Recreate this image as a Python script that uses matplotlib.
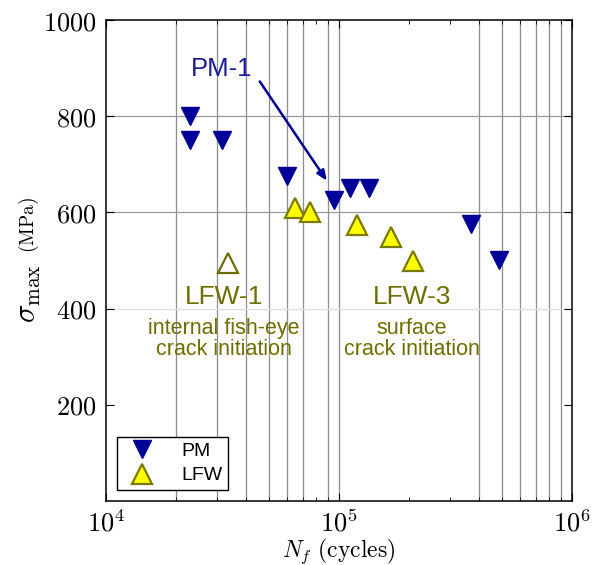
import numpy as np
import matplotlib
matplotlib.use('Agg')
import matplotlib.pyplot as plt
from matplotlib.ticker import FuncFormatter, NullFormatter, LogLocator

plt.rcParams['mathtext.fontset'] = 'cm'
SANS = ['Liberation Sans', 'DejaVu Sans']

# data
pm_cycles = [2.3e4, 2.3e4, 3.15e4, 6.0e4, 9.55e4, 1.12e5, 1.35e5, 3.7e5, 4.85e5]
pm_stress = [800, 750, 750, 675, 625, 650, 650, 575, 500]
lfw_cycles = [6.5e4, 7.5e4, 1.19e5, 1.67e5, 2.07e5]
lfw_stress = [610, 600, 574, 549, 498]
lfw1_cycles = [3.35e4]
lfw1_stress = [495]
y_ticks = [200, 400, 600, 800, 1000]

# the reference leaves out a few vertical grid lines
skip_grid_x = [8e4, 2e5, 3e5]

blue = '#000099'
olive = '#6e6e00'

fig = plt.figure(figsize=(6, 5.65), dpi=100)
ax = fig.add_axes([0.1767, 0.1133, 0.7767, 0.8513])

ax.plot(pm_cycles, pm_stress, 'v', color=blue, markersize=13, label='PM', zorder=5)
ax.plot(lfw_cycles, lfw_stress, '^', markerfacecolor='#ffff00', markeredgecolor='#7a7a00',
        markeredgewidth=1.6, markersize=15, label='LFW', zorder=5)
ax.plot(lfw1_cycles, lfw1_stress, '^', markerfacecolor='white', markeredgecolor='#6e6e00',
        markeredgewidth=1.6, markersize=15, zorder=5)

ax.set_xscale('log')
ax.set_xlim(1e4, 1e6)
ax.set_ylim(0, 1000)
ax.set_yticks(y_ticks)
ax.xaxis.set_major_locator(LogLocator(base=10))
ax.xaxis.set_minor_locator(LogLocator(base=10, subs=np.arange(2, 10)))
ax.xaxis.set_major_formatter(FuncFormatter(lambda v, p: r'$10^{%d}$' % round(np.log10(v))))
ax.xaxis.set_minor_formatter(NullFormatter())
ax.yaxis.set_major_formatter(FuncFormatter(lambda v, p: r'$%d$' % v))

ax.tick_params(which='both', direction='in', top=True, right=True, labelsize=19)
ax.tick_params(which='major', length=6, width=0.8, pad=7)
ax.tick_params(which='minor', length=3, width=0.6)
for s in ax.spines.values():
    s.set_linewidth(1.1)

# grid lines
for dec in [1e4, 1e5]:
    for m in range(1, 10):
        gx = dec * m
        if m == 1 and dec == 1e4:
            continue
        if any(np.isclose(gx, s) for s in skip_grid_x):
            continue
        ax.axvline(gx, color='0.55', linewidth=0.9, zorder=0)
for gy in y_ticks[1:4]:
    ax.axhline(gy, color='0.88' if gy == 400 else '0.6', linewidth=0.9, zorder=0)

ax.set_xlabel(r'$N_f\ \mathrm{(cycles)}$', fontsize=17, labelpad=-1)
fig.text(0.047, 0.48, r'$\sigma_{\mathrm{max}}$', rotation=90, fontsize=22,
         ha='center', va='center')
fig.text(0.049, 0.601, r'$\mathrm{(MPa)}$', rotation=90, fontsize=14,
         ha='center', va='center')

# annotations
ax.text(3.13e4, 898, 'PM-1', color='#1a1a9c', fontsize=18.5, family=SANS,
        ha='center', va='center')
ax.annotate('', xy=(9.0e4, 661), xytext=(4.5e4, 877),
            arrowprops=dict(arrowstyle='-|>,head_length=0.6,head_width=0.25',
                            color=blue, lw=1.8))

ax.text(3.2e4, 425, 'LFW-1', color=olive, fontsize=19, family=SANS,
        ha='center', va='center')
ax.text(3.2e4, 336, 'internal fish-eye\ncrack initiation', color=olive, fontsize=15.5,
        family=SANS, ha='center', va='center', linespacing=1.0)
ax.text(2.05e5, 425, 'LFW-3', color=olive, fontsize=19, family=SANS,
        ha='center', va='center')
ax.text(2.05e5, 336, 'surface\ncrack initiation', color=olive, fontsize=15.5,
        family=SANS, ha='center', va='center', linespacing=1.0)

leg = ax.legend(loc='lower left', prop={'family': SANS, 'size': 14}, fancybox=False,
                edgecolor='black', framealpha=1, borderaxespad=0.55, handletextpad=1.0,
                borderpad=0.3, labelspacing=0.35, handlelength=2.0)
leg.get_frame().set_linewidth(1.0)

fig.savefig('out.png', dpi=100)
